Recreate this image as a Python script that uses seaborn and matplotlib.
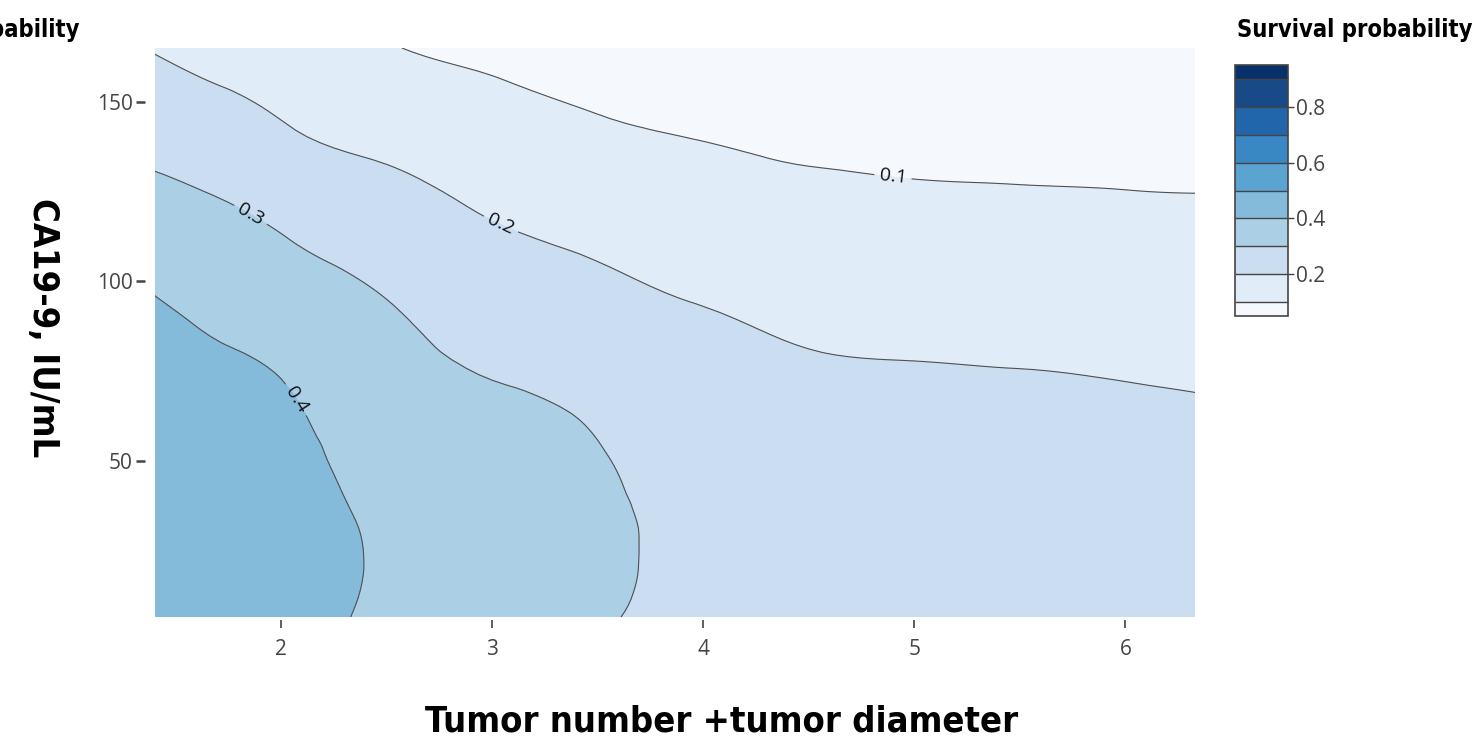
import numpy as np
import matplotlib
matplotlib.use("Agg")
import matplotlib.pyplot as plt
import matplotlib.cm as cm
import matplotlib.tri as mtri
from matplotlib.colors import ListedColormap, BoundaryNorm
import seaborn as sns

# grid: x = tumor number + tumor diameter, y = CA19-9
tumor_score = [1.4, 1.75, 2.0, 2.5, 3.0, 3.5, 4.0, 4.5, 5.0, 5.5, 6.0, 6.35]
ca199 = [6.5, 20, 35, 50, 65, 80, 95, 110, 125, 140, 155, 165]

# one row per CA19-9 value (bottom to top)
survival = [
    [0.470, 0.445, 0.426, 0.386, 0.350, 0.310, 0.270, 0.255, 0.245, 0.240, 0.235, 0.232],
    [0.467, 0.445, 0.430, 0.390, 0.348, 0.318, 0.272, 0.255, 0.245, 0.240, 0.234, 0.231],
    [0.460, 0.439, 0.425, 0.385, 0.343, 0.316, 0.270, 0.252, 0.242, 0.236, 0.231, 0.228],
    [0.452, 0.430, 0.417, 0.373, 0.333, 0.305, 0.265, 0.245, 0.235, 0.229, 0.224, 0.220],
    [0.440, 0.420, 0.407, 0.357, 0.315, 0.290, 0.255, 0.232, 0.222, 0.215, 0.208, 0.204],
    [0.425, 0.403, 0.390, 0.330, 0.285, 0.265, 0.230, 0.202, 0.196, 0.193, 0.190, 0.187],
    [0.402, 0.375, 0.355, 0.300, 0.255, 0.225, 0.195, 0.180, 0.172, 0.168, 0.165, 0.162],
    [0.370, 0.340, 0.310, 0.257, 0.215, 0.190, 0.160, 0.148, 0.143, 0.140, 0.137, 0.135],
    [0.320, 0.290, 0.265, 0.220, 0.185, 0.155, 0.130, 0.115, 0.107, 0.104, 0.101, 0.099],
    [0.270, 0.245, 0.214, 0.177, 0.145, 0.115, 0.098, 0.086, 0.083, 0.081, 0.080, 0.079],
    [0.225, 0.195, 0.175, 0.130, 0.104, 0.085, 0.075, 0.070, 0.068, 0.066, 0.065, 0.064],
    [0.195, 0.165, 0.150, 0.104, 0.090, 0.070, 0.060, 0.058, 0.056, 0.055, 0.054, 0.053],
]

fill_levels = [0.0, 0.1, 0.2, 0.3, 0.4, 0.5, 0.6, 0.7, 0.8, 0.9, 1.0]
line_levels = [0.1, 0.2, 0.3, 0.4]
cbar_bounds = [0.05, 0.1, 0.2, 0.3, 0.4, 0.5, 0.6, 0.7, 0.8, 0.9, 0.95]
cbar_ticks = [0.2, 0.4, 0.6, 0.8]
band_colors = ['#f5f9fe', '#e0ecf8', '#cbdef1', '#abd0e6', '#84bbdb',
               '#5ba3d0', '#3a88c3', '#2166ab', '#184a88', '#08306b']
label_spots = [(4.9, 129.7), (3.04, 115.7), (1.84, 117.0), (2.07, 67.0)]

sns.set_theme(style="white")
plt.rcParams['font.family'] = ['Open Sans', 'DejaVu Sans']
title_kw = dict(fontweight='bold', family='DejaVu Sans', fontstretch='condensed', color='black')

fig = plt.figure(figsize=(14.82, 7.44), dpi=100)
ax = fig.add_axes([155 / 1482, 1 - 617 / 744, 1040 / 1482, 569 / 744])

# smooth contour lines like plotly does (refined triangulation of the read grid)
X, Y = np.meshgrid(tumor_score, ca199)
Z = np.array(survival)
sx = (X - 1.4) / 5.0
sy = (Y - 6.5) / 160.0
tri = mtri.Triangulation(sx.ravel(), sy.ravel())
interp = mtri.CubicTriInterpolator(tri, Z.ravel(), kind='min_E')
refiner = mtri.UniformTriRefiner(tri)
tri_f, z_f = refiner.refine_field(Z.ravel(), triinterpolator=interp, subdiv=3)
tri_f = mtri.Triangulation(tri_f.x * 5.0 + 1.4, tri_f.y * 160.0 + 6.5, tri_f.triangles)

ax.tricontourf(tri_f, z_f, levels=fill_levels, colors=band_colors)
cs = ax.tricontour(tri_f, z_f, levels=line_levels, colors='#505050', linewidths=0.8)
ax.clabel(cs, manual=label_spots, inline=True, fmt='%.1f', fontsize=14, colors='#111')

ax.set_xlim(1.403, 6.33)
ax.set_ylim(6.5, 165)
ax.set_xticks([2, 3, 4, 5, 6])
ax.set_yticks([50, 100, 150])
for s in ax.spines.values():
    s.set_visible(False)
ax.spines['left'].set_position(('outward', 7.5))
ax.spines['bottom'].set_position(('outward', 2.2))
ax.tick_params(axis='y', left=True, length=6.5, width=1.8, color='#444',
               labelsize=15, labelcolor='#444', pad=2)
ax.tick_params(axis='x', bottom=True, length=5.8, width=1.2, color='#444',
               labelsize=15, labelcolor='#444', pad=8)

fig.text(722 / 1482, 1 - 722 / 744, 'Tumor number +tumor diameter', ha='center', va='center',
         fontsize=26, **title_kw)
fig.text(43 / 1482, 1 - 328 / 744, 'CA19-9, IU/mL', ha='center', va='center', rotation=-90,
         fontsize=26, **title_kw)

# colorbar
cax = fig.add_axes([1235 / 1482, 1 - 316 / 744, 53 / 1482, 251 / 744])
sm = cm.ScalarMappable(norm=BoundaryNorm(cbar_bounds, len(band_colors)),
                       cmap=ListedColormap(band_colors))
cb = fig.colorbar(sm, cax=cax, spacing='proportional', drawedges=True, ticks=cbar_ticks)
cb.minorticks_off()
cb.dividers.set_color('#444')
cb.dividers.set_linewidth(1)
cb.outline.set_edgecolor('#444')
cb.outline.set_linewidth(1.2)
cb.ax.tick_params(length=4, width=1, color='#444', labelsize=15, labelcolor='#444', pad=2)
cb.ax.set_yticklabels(['0.2', '0.4', '0.6', '0.8'])

fig.text(1237 / 1482, 1 - 30 / 744, 'Survival probability', ha='left', va='center',
         fontsize=17, **title_kw)
fig.text(80 / 1482, 1 - 30 / 744, 'Survival probability', ha='right', va='center',
         fontsize=17, **title_kw)

fig.savefig('out.png', dpi=100)
